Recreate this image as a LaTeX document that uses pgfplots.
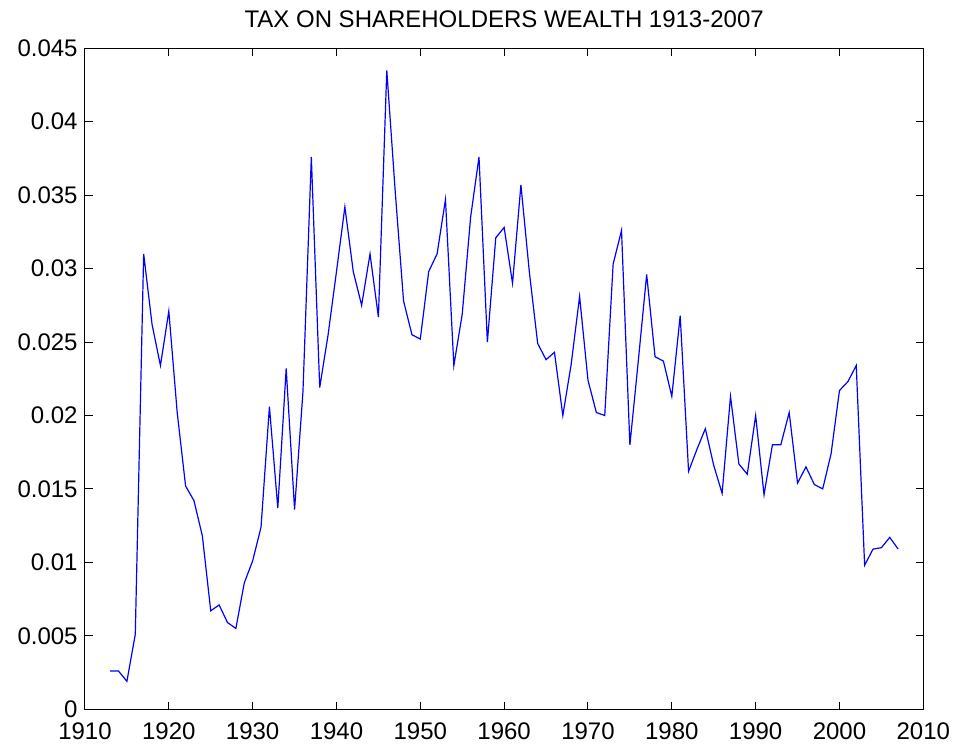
\documentclass[border=0pt]{standalone}
\usepackage{fontspec}
\setmainfont{Liberation Sans}
\usepackage{pgfplots}
\pgfplotsset{compat=1.18}
\begin{document}
\begin{tikzpicture}
\begin{axis}[
  scale only axis,
  width=419.2pt, height=330.5pt,
  xmin=1910, xmax=2010, ymin=0, ymax=0.045,
  xtick={1910,1920,...,2010},
  ytick={0,0.005,...,0.045},
  scaled y ticks=false,
  tick align=inside,
  major tick length=3.8pt,
  axis line style={line width=0.5pt, black},
  every tick/.style={black, line width=0.5pt},
  /pgf/number format/assume math mode=true,
  xticklabel style={/pgf/number format/1000 sep={}, font=\fontsize{12}{14}\selectfont, yshift=-5.5pt, inner sep=1pt},
  yticklabel style={/pgf/number format/fixed, /pgf/number format/precision=3, font=\fontsize{12}{14}\selectfont, xshift=-1.5pt, inner sep=2pt},
  title={TAX ON SHAREHOLDERS WEALTH 1913-2007},
  title style={font=\fontsize{12}{14}\selectfont, yshift=0.8pt},
]
\addplot[color={rgb,1:red,0;green,0;blue,1}, line width=0.6pt, mark=none] coordinates {
(1913,0.0026) (1914,0.0026) (1915,0.0019) (1916,0.0051) (1917,0.0310)
(1918,0.0262) (1919,0.0234) (1920,0.0271) (1921,0.0202) (1922,0.0152)
(1923,0.0142) (1924,0.0118) (1925,0.0067) (1926,0.0071) (1927,0.0059)
(1928,0.0055) (1929,0.0086) (1930,0.0101) (1931,0.0124) (1932,0.0206)
(1933,0.0137) (1934,0.0232) (1935,0.0136) (1936,0.0216) (1937,0.0376)
(1938,0.0219) (1939,0.0255) (1940,0.0298) (1941,0.0342) (1942,0.0298)
(1943,0.0275) (1944,0.0310) (1945,0.0267) (1946,0.0435) (1947,0.0353)
(1948,0.0278) (1949,0.0255) (1950,0.0252) (1951,0.0298) (1952,0.0310)
(1953,0.0347) (1954,0.0234) (1955,0.0269) (1956,0.0335) (1957,0.0376)
(1958,0.0250) (1959,0.0321) (1960,0.0328) (1961,0.0290) (1962,0.0357)
(1963,0.0298) (1964,0.0249) (1965,0.0238) (1966,0.0243) (1967,0.0200)
(1968,0.0235) (1969,0.0281) (1970,0.0224) (1971,0.0202) (1972,0.0200)
(1973,0.0303) (1974,0.0326) (1975,0.0180) (1976,0.0237) (1977,0.0296)
(1978,0.0240) (1979,0.0237) (1980,0.0213) (1981,0.0268) (1982,0.0162)
(1983,0.0177) (1984,0.0191) (1985,0.0166) (1986,0.0147) (1987,0.0213)
(1988,0.0167) (1989,0.0160) (1990,0.0200) (1991,0.0146) (1992,0.0180)
(1993,0.0180) (1994,0.0202) (1995,0.0154) (1996,0.0165) (1997,0.0153)
(1998,0.0150) (1999,0.0174) (2000,0.0217) (2001,0.0223) (2002,0.0234)
(2003,0.0098) (2004,0.0109) (2005,0.0110) (2006,0.0117) (2007,0.0109)
};
\end{axis}
\path (current axis.south west) ++(-42.5pt,-19.35pt) coordinate (bbsw);
\path (current axis.north east) ++(14.85pt,24.15pt) coordinate (bbne);
\path (bbsw) rectangle (bbne);
\end{tikzpicture}
\end{document}
